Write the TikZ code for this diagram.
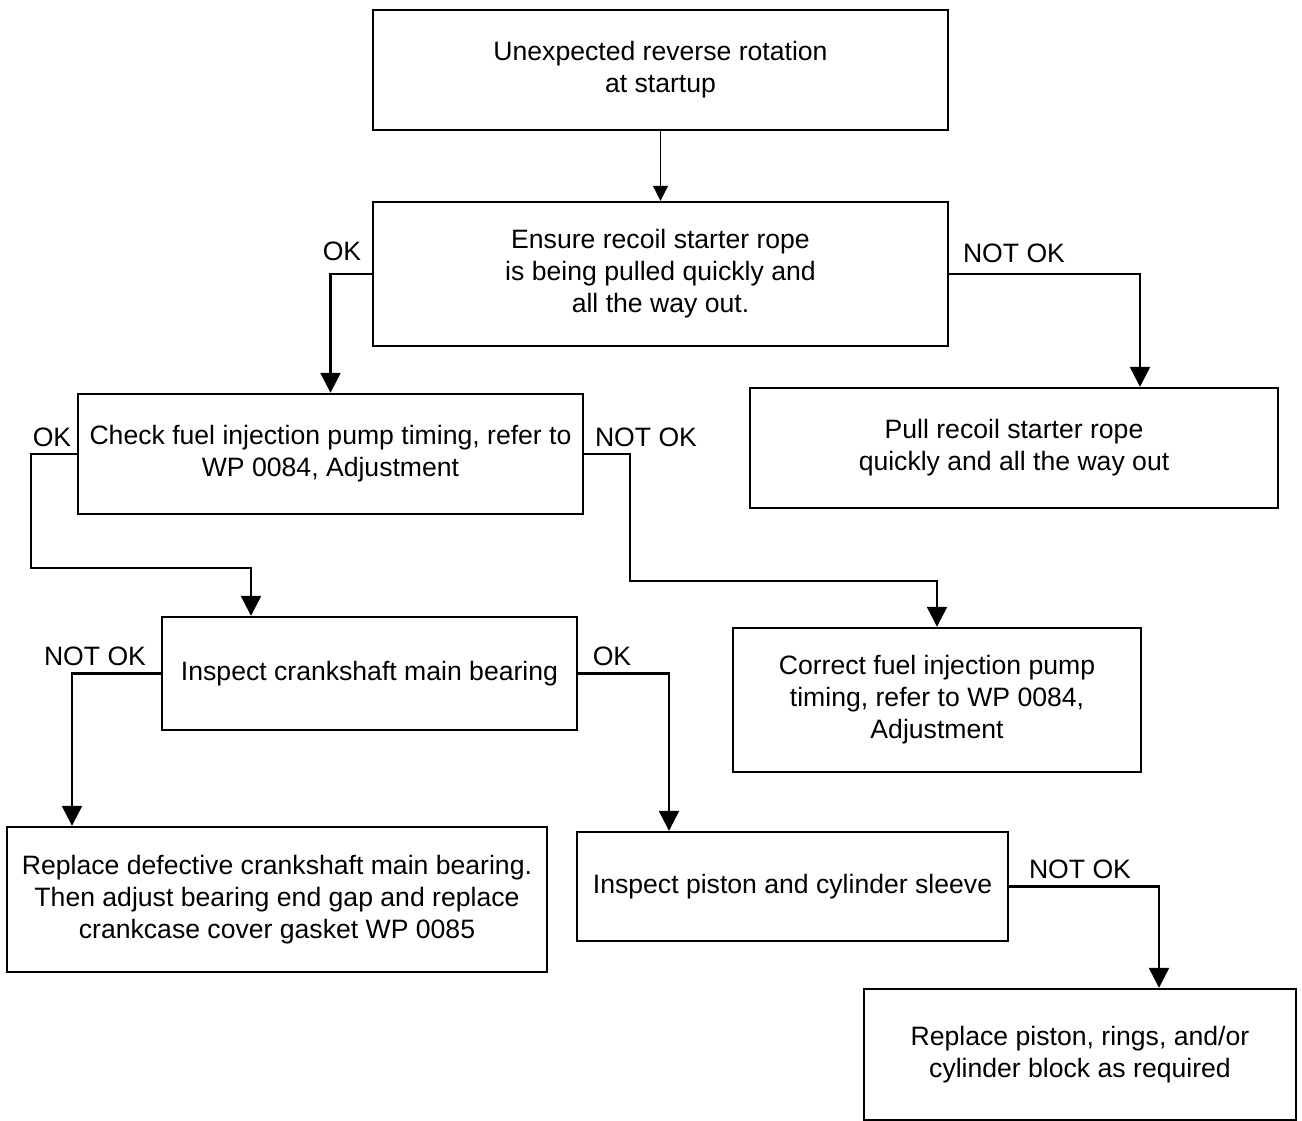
\documentclass[tikz,border=0pt]{standalone}
\usepackage{fontspec}
\setmainfont{Liberation Sans}
\usetikzlibrary{arrows.meta}
\begin{document}
\begin{tikzpicture}[x=1pt,y=-1pt,
  box/.style={draw, line width=2.4pt, rectangle, inner sep=0pt, align=center,
    font=\fontsize{26.6}{32}\selectfont},
  lbl/.style={inner sep=0pt, font=\fontsize{26.6}{32}\selectfont},
  conn/.style={line width=2.4pt, -{Triangle[length=20pt,width=20pt]}},
  thinconn/.style={line width=1pt, -{Triangle[length=15pt,width=15pt]}}]
\useasboundingbox[fill=white] (0,0) rectangle (1302,1120);

\node[box, minimum width=575pt, minimum height=120pt] (top) at (660.5,70) {Unexpected reverse rotation\\at startup};
\node[box, minimum width=575pt, minimum height=144pt] (ens) at (660.5,274) {Ensure recoil starter rope\\is being pulled quickly and\\all the way out.};
\node[box, minimum width=528pt, minimum height=120pt] (pull) at (1014,448) {Pull recoil starter rope\\quickly and all the way out};
\node[box, minimum width=505pt, minimum height=120pt] (check) at (330.5,454) {Check fuel injection pump timing, refer to\\WP 0084, Adjustment};
\node[box, minimum width=408pt, minimum height=144pt] (corr) at (937,700) {Correct fuel injection pump\\timing, refer to WP 0084,\\Adjustment};
\node[box, minimum width=415pt, minimum height=113pt] (crank) at (369.5,673.5) {Inspect crankshaft main bearing};
\node[box, minimum width=540pt, minimum height=145pt] (repd) at (277,899.5) {Replace defective crankshaft main bearing.\\Then adjust bearing end gap and replace\\crankcase cover gasket WP 0085};
\node[box, minimum width=431pt, minimum height=109pt] (pist) at (792.5,886.5) {Inspect piston and cylinder sleeve};
\node[box, minimum width=432pt, minimum height=131pt] (reppi) at (1080,1054.5) {Replace piston, rings, and/or\\cylinder block as required};

\draw[thinconn] (top) -- (ens);
\draw[conn] (ens.west) -| (check.north);
\draw[conn] (ens.east) -| ([xshift=126pt]pull.north);
\draw[conn] (check.west) -| (31,568) -| ([xshift=-118.5pt]crank.north);
\draw[conn] (check.east) -| (630,581) -| (corr.north);
\draw[conn] (crank.west) -| ([xshift=-205pt]repd.north);
\draw[conn] (crank.east) -| ([xshift=-123.5pt]pist.north);
\draw[conn] (pist.east) -| ([xshift=79pt]reppi.north);

\node[lbl] (l1) at (342,251) {OK};
\node[lbl] (l2) at (1014,253) {NOT OK};
\node[lbl] (l3) at (52,437) {OK};
\node[lbl] (l4) at (646,437) {NOT OK};
\node[lbl] (l5) at (95,656) {NOT OK};
\node[lbl] (l6) at (612,656) {OK};
\node[lbl] (l7) at (1080,869) {NOT OK};
\end{tikzpicture}
\end{document}
